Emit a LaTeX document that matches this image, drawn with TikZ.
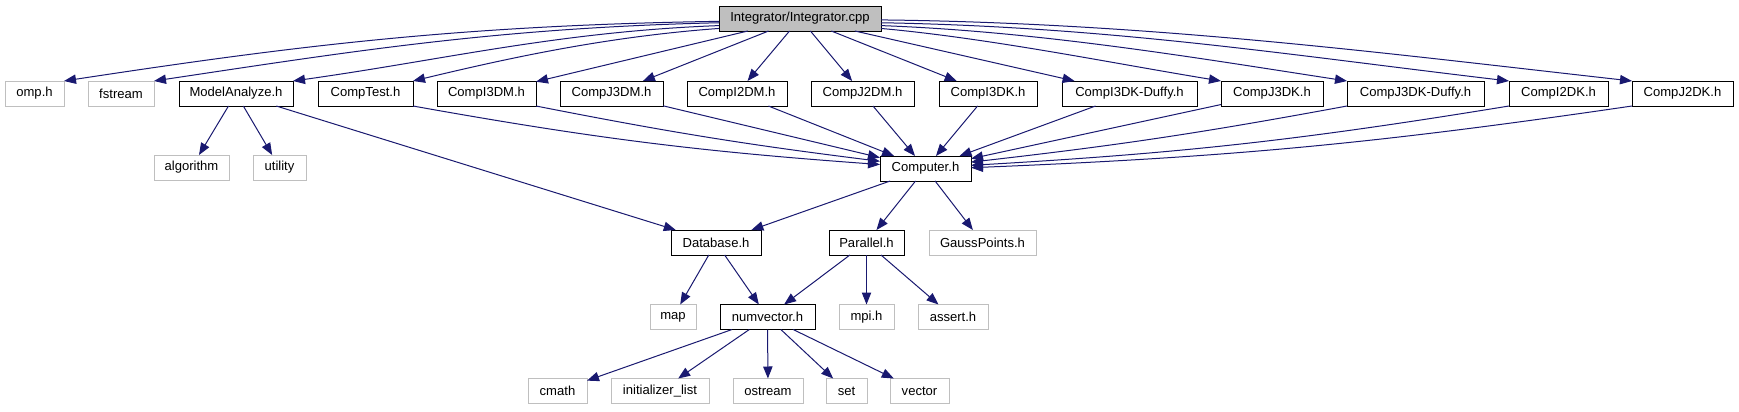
\documentclass[tikz,border=0pt]{standalone}
\usepackage{fontspec}
\setmainfont{Liberation Sans}
\usetikzlibrary{arrows.meta}
\definecolor{edgeblue}{HTML}{191970}
\definecolor{extgray}{HTML}{BFBFBF}
\begin{document}
\begin{tikzpicture}[x=0.75pt,y=-0.75pt,
  box/.style={draw=black, line width=0.75pt, rectangle, inner sep=0pt, outer sep=0pt,
    minimum height=18.75pt, font=\fontsize{9.8pt}{11pt}\selectfont},
  ext/.style={box, draw=extgray},
  wd/.style={minimum width=#1*0.75pt},
  dep/.style={draw=edgeblue, line width=0.75pt, -{Triangle[length=9pt,width=7pt]}}
]
\fill[white] (0,0) rectangle (1739,411);
\useasboundingbox (0,0) rectangle (1739,411);

% row 0
\node[box, fill=extgray, wd=162] (I) at (800,18.5) {Integrator/Integrator.cpp};
% row 1
\node[ext, wd=59]  (omp)     at (34.5,93.5)  {omp.h};
\node[ext, wd=66]  (fstream) at (121,93.5)   {fstream};
\node[box, wd=114] (MA)      at (236,93.5)   {ModelAnalyze.h};
\node[box, wd=95]  (CT)      at (365.5,93.5) {CompTest.h};
\node[box, wd=99]  (CI3DM)   at (486.5,93.5) {CompI3DM.h};
\node[box, wd=103] (CJ3DM)   at (611.5,93.5) {CompJ3DM.h};
\node[box, wd=100] (CI2DM)   at (737,93.5)   {CompI2DM.h};
\node[box, wd=103] (CJ2DM)   at (862.5,93.5) {CompJ2DM.h};
\node[box, wd=98]  (CI3DK)   at (988,93.5)   {CompI3DK.h};
\node[box, wd=135] (CI3DKD)  at (1129.5,93.5) {CompI3DK-Duffy.h};
\node[box, wd=102] (CJ3DK)   at (1272,93.5)  {CompJ3DK.h};
\node[box, wd=137] (CJ3DKD)  at (1415.5,93.5) {CompJ3DK-Duffy.h};
\node[box, wd=99]  (CI2DK)   at (1558.5,93.5) {CompI2DK.h};
\node[box, wd=101] (CJ2DK)   at (1682.5,93.5) {CompJ2DK.h};
% row 2
\node[ext, wd=75] (alg)  at (191.5,167.5) {algorithm};
\node[ext, wd=53] (util) at (279.5,167.5) {utility};
\node[box, wd=91] (C)    at (925.5,168.5) {Computer.h};
% row 3
\node[box, wd=90]  (DB)  at (716,242.5)   {Database.h};
\node[box, wd=75]  (Par) at (866.5,242.5) {Parallel.h};
\node[ext, wd=107] (GP)  at (982.5,242.5) {GaussPoints.h};
% row 4
\node[ext, wd=46] (map)   at (673,317)   {map};
\node[box, wd=95] (NV)    at (767.5,317) {numvector.h};
\node[ext, wd=55] (mpi)   at (866.5,317) {mpi.h};
\node[ext, wd=70] (assrt) at (953,317)   {assert.h};
% row 5
\node[ext, wd=59] (cmath) at (557.5,391) {cmath};
\node[ext, wd=98] (il)    at (660,391)   {initializer\_list};
\node[ext, wd=70] (ostr)  at (768,391)   {ostream};
\node[ext, wd=41] (setn)  at (846.5,391) {set};
\node[ext, wd=59] (vec)   at (919.5,391) {vector};

% Integrator fan (curved outer edges)
\draw[dep] (I.182)   .. controls +(-260,4) and +(230,-35) .. (omp.north east);
\draw[dep] (I.183.5) .. controls +(-220,5) and +(200,-30) .. (fstream.north east);
\draw[dep] (I.185.5) .. controls +(-160,6) and +(150,-21) .. (MA.north east);
\draw[dep] (I.187.5) .. controls +(-110,8) and +(100,-24) .. (CT.north east);
\draw[dep] (I) -- (CI3DM);
\draw[dep] (I) -- (CJ3DM);
\draw[dep] (I) -- (CI2DM);
\draw[dep] (I) -- (CJ2DM);
\draw[dep] (I) -- (CI3DK);
\draw[dep] (I) -- (CI3DKD);
\draw[dep] (I.-7.4) .. controls +(110,10) and +(-110,-18) .. (CJ3DK.north west);
\draw[dep] (I.-5.3) .. controls +(160,6) and +(-150,-23) .. (CJ3DKD.north west);
\draw[dep] (I.-3.2) .. controls +(230,4) and +(-220,-26) .. (CI2DK.north west);
\draw[dep] (I.-1.8) .. controls +(270,3) and +(-250,-28) .. (CJ2DK.north west);

% into Computer.h
\draw[dep] (CT.south east) to[bend right=3] (C.175);
\draw[dep] (CI3DM.south east) to[bend right=2] (C.171);
\draw[dep] (CJ3DM) -- (C);
\draw[dep] (CI2DM) -- (C);
\draw[dep] (CJ2DM) -- (C);
\draw[dep] (CI3DK) -- (C);
\draw[dep] (CI3DKD) -- (C);
\draw[dep] (CJ3DK) -- (C);
\draw[dep] (CJ3DKD.south west) to[bend left=2] (C.8);
\draw[dep] (CI2DK.south west) to[bend left=3] (C.4);
\draw[dep] (CJ2DK.south west) to[bend left=3] (C.1);

% ModelAnalyze
\draw[dep] (MA) -- (alg);
\draw[dep] (MA) -- (util);
\draw[dep] (MA) -- (DB);

% Computer
\draw[dep] (C) -- (DB);
\draw[dep] (C) -- (Par);
\draw[dep] (C) -- (GP);

% Database, Parallel
\draw[dep] (DB) -- (map);
\draw[dep] (DB) -- (NV);
\draw[dep] (Par) -- (NV);
\draw[dep] (Par) -- (mpi);
\draw[dep] (Par) -- (assrt);

% numvector
\draw[dep] (NV) -- (cmath);
\draw[dep] (NV) -- (il);
\draw[dep] (NV) -- (ostr);
\draw[dep] (NV) -- (setn);
\draw[dep] (NV) -- (vec);
\end{tikzpicture}
\end{document}
